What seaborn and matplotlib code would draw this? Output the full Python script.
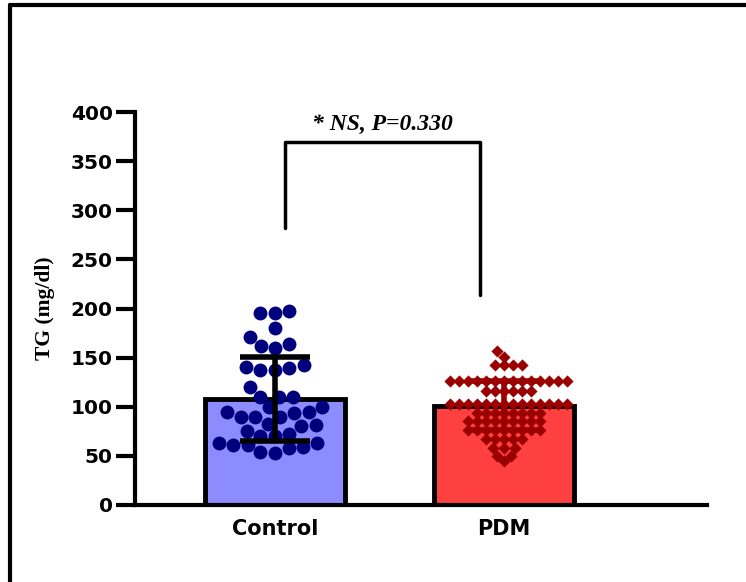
import numpy as np
import pandas as pd
import matplotlib
matplotlib.use("Agg")
import matplotlib.pyplot as plt
import seaborn as sns
from matplotlib.lines import Line2D

groups = ["Control", "PDM"]
bar_means = [108, 101]
bar_sd = [43, 25]

control_vals = [197.8, 195.7, 195.7, 180.5, 171.3, 163.9, 161.8, 159.5, 142.5, 140.1,
                139.1, 137.4, 137.4, 120.4, 110.2, 110.2, 110.2, 99.4, 99.4, 95.0,
                95.0, 93.9, 89.9, 89.9, 89.9, 82.4, 81.4, 80.4, 75.6, 72.3,
                70.2, 70.2, 63.4, 62.8, 61.0, 61.0, 59.3, 57.7, 54.3, 52.6]
pdm_vals = [157, 151,
            142, 142, 142, 142,
            126, 126, 126, 126, 126, 126, 126, 126, 126, 126, 126, 126, 126, 126,
            116, 116, 116, 116, 116, 116,
            103, 103, 103, 103, 103, 103, 103, 103, 103, 103, 103, 103, 103, 103,
            94, 94, 94, 94, 94, 94, 94, 94,
            85, 85, 85, 85, 85, 85, 85, 85, 85,
            76, 76, 76, 76, 76, 76, 76, 76, 76,
            67, 67, 67, 67, 67,
            58, 58, 58,
            50, 50,
            45]
yticks = [0, 50, 100, 150, 200, 250, 300, 350, 400]
annot_text = "* NS, P=0.330"
ylabel = "TG (mg/dl)"

sns.set_theme(style="white")
plt.rcParams["font.family"] = ["DejaVu Sans"]
plt.rcParams["text.color"] = "black"

fig = plt.figure(figsize=(7.46, 5.82), dpi=100)
ax = fig.add_axes([135/746, 1-505/582, (707-135)/746, (505-112)/582])

bars_df = pd.DataFrame({"group": groups, "mean": bar_means})
bar_colors = ["#8C8CFF", "#FF4040"]
sns.barplot(data=bars_df, x="group", y="mean", order=groups, hue="group",
            palette=bar_colors, saturation=1, width=0.61, edgecolor="black",
            linewidth=3.5, legend=False, errorbar=None, ax=ax, zorder=1)

ctrl_df = pd.DataFrame({"group": "Control", "val": control_vals})
pdm_df = pd.DataFrame({"group": "PDM", "val": pdm_vals})
sns.swarmplot(data=ctrl_df, x="group", y="val", order=groups, color="#00007F",
              marker="o", size=10, linewidth=0, ax=ax, zorder=3)
sns.swarmplot(data=pdm_df, x="group", y="val", order=groups, color="#9B0000",
              marker="D", size=6.2, linewidth=0, ax=ax, zorder=3, warn_thresh=1)

err_colors = ["black", "#9B0000"]
for i in range(2):
    ax.errorbar(i, bar_means[i], yerr=bar_sd[i], fmt="none", ecolor=err_colors[i],
                elinewidth=4, capsize=25, capthick=4, zorder=4)

ax.set_xlim(-0.611, 1.886)
ax.set_ylim(0, 400)
ax.set_yticks(yticks)
ax.set_yticklabels([str(t) for t in yticks], fontsize=14.5, fontweight="bold", color="black")
ax.set_xticks([0, 1])
ax.set_xticklabels(groups, fontsize=15, fontweight="bold", color="black")
ax.set_xlabel("")
ax.set_ylabel(ylabel, fontsize=15.5, fontweight="bold", color="black",
              family=["Liberation Serif", "DejaVu Serif"], labelpad=11)

for s in ["top", "right"]:
    ax.spines[s].set_visible(False)
for s in ["left", "bottom"]:
    ax.spines[s].set_linewidth(3)
    ax.spines[s].set_color("black")
ax.tick_params(axis="y", direction="out", length=14, width=3, color="black", pad=2, left=True)
ax.tick_params(axis="x", length=0, pad=10)

# significance bracket
bx0, bx1, btop = 0.044, 0.895, 369.5
ax.plot([bx0, bx0, bx1, bx1], [282, btop, btop, 214], color="black", lw=2.5,
        clip_on=False, zorder=5)
ax.text(0.47, 377, annot_text, ha="center", va="bottom", fontsize=17,
        fontweight="bold", fontstyle="italic", color="black",
        family=["Liberation Serif", "DejaVu Serif"])

# outer frame lines (left and top)
fig.add_artist(Line2D([10/746, 10/746], [0, 1-5/582], color="black", lw=3,
                      transform=fig.transFigure))
fig.add_artist(Line2D([10/746, 1], [1-5/582, 1-5/582], color="black", lw=3,
                      transform=fig.transFigure))

fig.savefig("out.png", dpi=100)
